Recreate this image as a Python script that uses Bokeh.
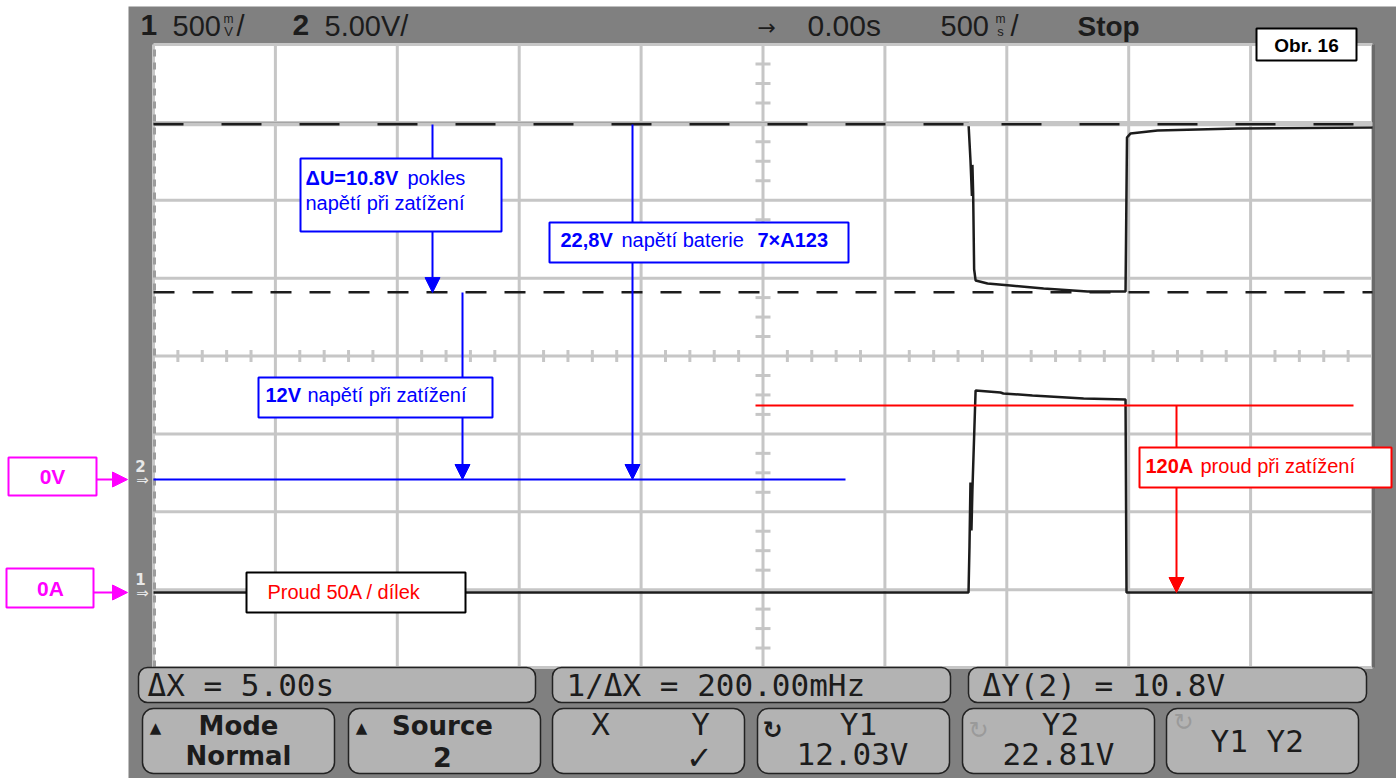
import numpy as np
from bokeh.plotting import figure
from bokeh.models import Range1d, BoxAnnotation, Label, Arrow, NormalHead
from bokeh.embed import file_html
from bokeh.resources import INLINE

# ---------------------------------------------------------------------------
# Captured waveforms
# channel 2: battery terminal voltage [V]
ch2_time = [-2.5, 0.843, 0.851, 0.857, 0.859, 0.862, 0.866, 0.872, 0.921,
            1.015, 1.151, 1.331, 1.487, 1.493, 1.507, 1.618, 1.946, 2.5]
ch2_volts = [22.85, 22.85, 20.5, 18.2, 20.2, 18.4, 13.5, 12.78, 12.58,
             12.46, 12.26, 12.07, 12.07, 21.96, 22.21, 22.41, 22.54, 22.60]

# channel 1: load current [A] (current probe, 50 A per division)
ch1_time = [-2.5, 0.843, 0.847, 0.851, 0.855, 0.859, 0.872, 0.974, 0.986,
            1.105, 1.315, 1.487, 1.491, 2.5]
ch1_amps = [0.0, 0.0, 30.0, 70.6, 39.8, 66.0, 129.7, 128.4, 127.8,
            126.5, 124.6, 123.9, 0.0, 0.0]

# cursor readouts (channel 2)
cursor_y1 = 12.03
cursor_y2 = 22.81

# annotated values
batt_voltage = 22.8
load_voltage = 12.0
drop_voltage = 10.8
load_current = 120.0

# scope settings
time_per_div = 0.5
volts_per_div_ch2 = 5.0
amps_per_div_ch1 = 50.0
ch2_ground_div = -1.586
ch1_ground_div = -3.037

# ---------------------------------------------------------------------------
# Screen layout (pixels)
W, H = 1396, 778
GX0, GX1 = 153, 1372          # graticule left/right
GY0, GY1 = 44, 667            # graticule top/bottom
DIVX = (GX1 - GX0) / 10.0
DIVY = (GY1 - GY0) / 8.0
CX = (GX0 + GX1) / 2.0
CY = (GY0 + GY1) / 2.0


def tx(px):
    """screen x -> time [s]"""
    return (px - CX) / DIVX * time_per_div


def dy(py):
    """screen y -> vertical divisions"""
    return (CY - py) / DIVY


ymin, ymax = dy(H), dy(0)

p = figure(width=W, height=H, x_range=Range1d(tx(0), tx(W)),
           y_range=Range1d(ymin, ymax), output_backend="svg",
           toolbar_location=None, min_border=0, outline_line_color=None,
           background_fill_color="white", border_fill_color="white",
           x_axis_location=None, y_axis_location=None)
p.grid.visible = False
p.extra_y_ranges = {
    "ch2": Range1d((ymin - ch2_ground_div) * volts_per_div_ch2,
                   (ymax - ch2_ground_div) * volts_per_div_ch2),
    "ch1": Range1d((ymin - ch1_ground_div) * amps_per_div_ch1,
                   (ymax - ch1_ground_div) * amps_per_div_ch1),
}

SCOPE_GRAY = "#808080"
PANEL_GRAY = "#b3b3b3"
GRID = "#c6c6c6"
INK = "#1c1c1c"
BLUE = "#0000ff"
RED = "#ff0000"
MAGENTA = "#ff00ff"

# scope body and graticule background
p.add_layout(BoxAnnotation(left=tx(128), right=tx(W), top=dy(6), bottom=dy(H),
                           fill_color=SCOPE_GRAY, fill_alpha=1, line_alpha=0,
                           level="underlay"))
p.add_layout(BoxAnnotation(left=tx(GX0), right=tx(GX1), top=dy(GY0), bottom=dy(GY1),
                           fill_color="white", fill_alpha=1, line_alpha=0,
                           level="underlay"))

# graticule
t_left, t_right = -5 * time_per_div, 5 * time_per_div
grid_t = [time_per_div * (k - 5) for k in range(11)]
grid_d = list(range(-4, 5))
p.segment(x0=grid_t, x1=grid_t, y0=-4, y1=4, line_color=GRID, line_width=3)
p.segment(x0=t_left, x1=t_right, y0=grid_d, y1=grid_d, line_color=GRID, line_width=3)

# minor ticks on the centre axes
mt = [t_left + k * time_per_div / 5 for k in range(51) if k % 5]
p.segment(x0=mt, x1=mt, y0=-6 / DIVY, y1=6 / DIVY, line_color=GRID, line_width=3)
md = [-4 + k * 0.25 for k in range(33) if k % 4]
half_t = 7.5 / DIVX * time_per_div
p.segment(x0=-half_t, x1=half_t, y0=md, y1=md, line_color=GRID, line_width=3)

# graticule edges
p.segment(x0=[tx(GX0 + 1)], x1=[tx(GX0 + 1)], y0=[-4], y1=[4], line_color="#9c9c9c",
          line_width=3, line_dash="7 6")
p.segment(x0=[tx(GX1 + 1)], x1=[tx(GX1 + 1)], y0=[-4], y1=[4], line_color="#6a6a6a",
          line_width=3)

# Y1 cursor
p.segment(x0=[t_left], x1=[t_right], y0=[cursor_y1], y1=[cursor_y1], y_range_name="ch2",
          line_color=INK, line_width=2.5, line_dash="21 18")

# traces
p.line(ch2_time, ch2_volts, y_range_name="ch2", line_color=INK, line_width=2.5)
p.line(ch1_time, ch1_amps, y_range_name="ch1", line_color=INK, line_width=2.5)

# Y2 cursor
p.segment(x0=[t_left], x1=[t_right], y0=[cursor_y2], y1=[cursor_y2], y_range_name="ch2",
          line_color=GRID, line_width=4)
p.segment(x0=[t_left], x1=[t_right], y0=[cursor_y2], y1=[cursor_y2], y_range_name="ch2",
          line_color=INK, line_width=2.5, line_dash="40 38", line_dash_offset=10)

# blue 0 V reference line and red 120 A level line
p.segment(x0=[t_left], x1=[tx(845)], y0=[0], y1=[0], y_range_name="ch2",
          line_color=BLUE, line_width=2)
p.segment(x0=[tx(755)], x1=[tx(1353)], y0=[load_current], y1=[load_current],
          y_range_name="ch1", line_color=RED, line_width=2)


def arrow(x, y0, y1, color, rng):
    p.add_layout(Arrow(x_start=x, y_start=y0, x_end=x, y_end=y1, y_range_name=rng,
                       line_color=color, line_width=2,
                       end=NormalHead(size=15, fill_color=color, line_color=color)))


arrow(tx(432), batt_voltage, load_voltage, BLUE, "ch2")
arrow(tx(462), load_voltage, 0.0, BLUE, "ch2")
arrow(tx(632), batt_voltage, 0.0, BLUE, "ch2")
arrow(tx(1176), load_current, 0.0, RED, "ch1")
p.add_layout(Arrow(x_start=tx(96), y_start=0, x_end=tx(127), y_end=0, y_range_name="ch2",
                   line_color=MAGENTA, line_width=2,
                   end=NormalHead(size=15, fill_color=MAGENTA, line_color=MAGENTA)))
p.add_layout(Arrow(x_start=tx(93), y_start=0, x_end=tx(127), y_end=0, y_range_name="ch1",
                   line_color=MAGENTA, line_width=2,
                   end=NormalHead(size=15, fill_color=MAGENTA, line_color=MAGENTA)))


def box(l, t, r, b, color, width=2, fill="white", radius=0):
    p.add_layout(BoxAnnotation(left=tx(l), right=tx(r), top=dy(t), bottom=dy(b),
                               fill_color=fill, fill_alpha=1, line_color=color,
                               line_alpha=1, line_width=width, border_radius=radius))


def text(x, y, s, size, color=INK, font="Liberation Sans", style="normal", align="left"):
    # y is the wanted baseline; the renderer sits alphabetic text a little low
    p.add_layout(Label(x=tx(x), y=dy(y - 0.37 * size), text=s, text_font=font,
                       text_font_size=f"{size}px", text_font_style=style,
                       text_color=color, text_align=align,
                       text_baseline="alphabetic"))


AF = 20  # annotation font size

box(300, 158, 501, 231, BLUE)
text(305, 185, f"ΔU={drop_voltage}V", AF, BLUE, style="bold")
text(407, 185, "pokles", AF, BLUE)
text(305, 210, "napětí při zatížení", AF, BLUE)

box(258, 377, 492, 417, BLUE)
text(265, 402, f"{load_voltage:.0f}V", AF, BLUE, style="bold")
text(307, 402, "napětí při zatížení", AF, BLUE)

box(549, 222, 848, 262, BLUE)
text(560, 247, f"{batt_voltage}".replace(".", ",") + "V", AF, BLUE, style="bold")
text(621, 247, "napětí baterie", AF, BLUE)
text(757, 247, "7×A123", AF, BLUE, style="bold")

box(1139, 447, 1391, 487, RED)
text(1145, 473, f"{load_current:.0f}A", AF, RED, style="bold")
text(1200, 473, "proud při zatížení", AF, RED)

box(246, 572, 465, 612, "black")
text(267, 599, f"Proud {amps_per_div_ch1:.0f}A / dílek", AF, RED)

box(8, 457, 96, 495, MAGENTA)
text(52, 484, "0V", 21, MAGENTA, style="bold", align="center")
box(6, 568, 93, 607, MAGENTA)
text(50, 596, "0A", 21, MAGENTA, style="bold", align="center")

# channel ground markers
text(140, 471, "2", 15, "#e8e8e8", font="DejaVu Sans", style="bold", align="center")
text(142, 485, "⇒", 15, "#e8e8e8", font="DejaVu Sans", align="center")
text(140, 584, "1", 15, "#e8e8e8", font="DejaVu Sans", style="bold", align="center")
text(142, 598, "⇒", 15, "#e8e8e8", font="DejaVu Sans", align="center")

# status line
HF = "Liberation Sans"
text(140, 36, "1", 30, INK, HF, "bold")
text(172, 36, "500", 29, INK, HF)
text(228, 23, "m", 12, INK, HF, align="center")
text(228, 36, "V", 13, INK, HF, align="center")
text(236, 36, "/", 29, INK, HF)
text(292, 36, "2", 30, INK, HF, "bold")
text(324, 36, f"{volts_per_div_ch2:.2f}V/", 29, INK, HF)
text(757, 35, "→", 22, INK, "DejaVu Sans")
text(807, 36, "0.00s", 30, INK, HF)
text(940, 36, f"{time_per_div * 1000:.0f}", 29, INK, HF)
text(1000, 23, "m", 12, INK, HF, align="center")
text(1000, 36, "s", 13, INK, HF, align="center")
text(1010, 36, "/", 29, INK, HF)
text(1077, 36, "Stop", 28, INK, HF, "bold")

box(1256, 28, 1356, 60, "black")
text(1306, 52, "Obr. 16", 19, "black", "Liberation Sans", "bold", "center")

# measurement readouts
MF = "DejaVu Sans Mono"
box(138, 667, 535, 702, "#222222", 1.5, PANEL_GRAY, 9)
box(552, 667, 950, 702, "#222222", 1.5, PANEL_GRAY, 9)
box(968, 667, 1366, 702, "#222222", 1.5, PANEL_GRAY, 9)
text(147, 696, "ΔX = 5.00s", 31, INK, MF)
text(566, 696, "1/ΔX = 200.00mHz", 31, INK, MF)
text(982, 696, f"ΔY(2) = {cursor_y2 - cursor_y1:.1f}V", 31, INK, MF)

# softkeys
for left in [142, 348, 552, 757, 962, 1166]:
    box(left, 708, left + 192, 773, "#222222", 1.5, PANEL_GRAY, 11)

BF = "DejaVu Sans"
text(155, 733, "▲", 15, INK, BF, align="center")
text(238, 735, "Mode", 26, INK, BF, "bold", "center")
text(238, 765, "Normal", 26, INK, BF, "bold", "center")
text(361, 733, "▲", 15, INK, BF, align="center")
text(442, 735, "Source", 26, INK, BF, "bold", "center")
text(442, 766, "2", 27, INK, BF, "bold", "center")
text(600, 735, "X", 31, INK, MF, align="center")
text(700, 735, "Y", 31, INK, MF, align="center")
text(699, 769, "✓", 32, INK, BF, align="center")
text(772, 738, "↻", 24, INK, BF, "bold", "center")
text(858, 735, "Y1", 31, INK, MF, align="center")
text(852, 765, f"{cursor_y1:.2f}V", 31, INK, MF, align="center")
text(978, 738, "↻", 24, "#9a9a9a", BF, align="center")
text(1060, 735, "Y2", 31, INK, MF, align="center")
text(1058, 765, f"{cursor_y2:.2f}V", 31, INK, MF, align="center")
text(1183, 730, "↻", 24, "#9a9a9a", BF, align="center")
text(1266, 752, "Y1  Y2", 31, INK, MF, align="center")

open("out.html", "w").write(file_html(p, INLINE))
